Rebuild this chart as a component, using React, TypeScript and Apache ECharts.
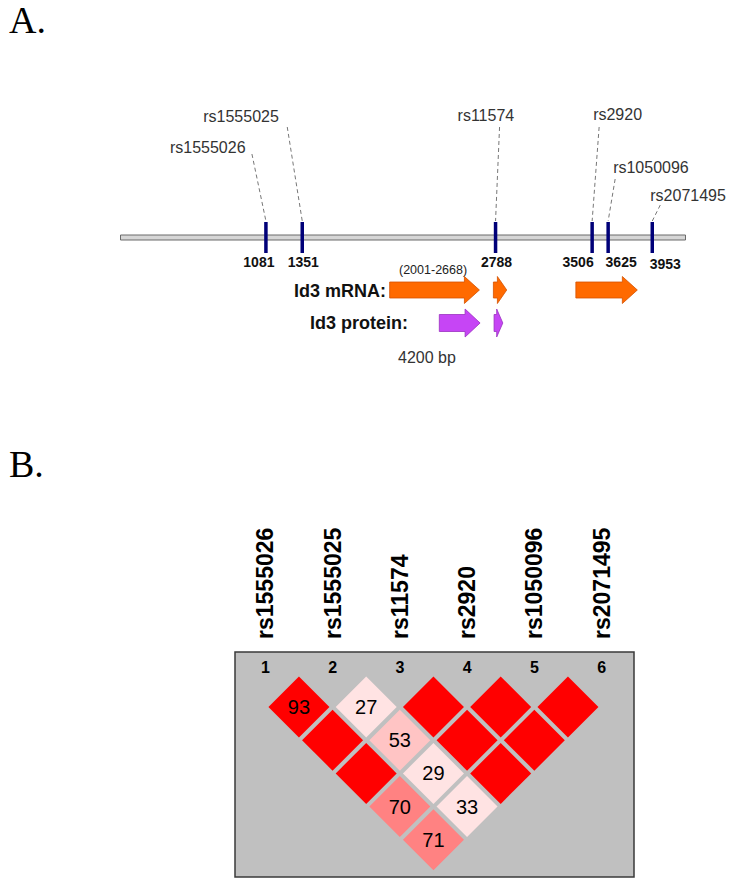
import React, { useEffect, useRef } from 'react';
import * as echarts from 'echarts';

// ---------- data ----------
const snpNames = ['rs1555026', 'rs1555025', 'rs11574', 'rs2920', 'rs1050096', 'rs2071495'];
const snpPositions = [1081, 1351, 2788, 3506, 3625, 3953];
const geneLength = 4200;
const mrnaSegments = [[2001, 2668], [2772, 2871], [3385, 3842]];
const proteinSegments = [[2370, 2673], [2777, 2842]];
const mrnaRangeLabel = '(2001-2668)';
// LD pairs: [marker i, marker j, D' x 100]
const ldPairs = [
  [1, 2, 93], [2, 3, 27], [3, 4, 100], [4, 5, 100], [5, 6, 100],
  [1, 3, 100], [2, 4, 53], [3, 5, 100], [4, 6, 100],
  [1, 4, 100], [2, 5, 29], [3, 6, 100],
  [1, 5, 70], [2, 6, 33],
  [1, 6, 71],
];
const markerNumbers = [1, 2, 3, 4, 5, 6];

// ---------- layout (pixels) ----------
// [label left dx from tick, label centre y, leader start dx, leader start y]
const snpLabelLayout = [
  [-96, 147, -14, 154],
  [-99, 116, -15, 127],
  [-38, 115, 4, 127],
  [1, 114, 7, 127],
  [5, 167, 7, 179],
  [-2, 195, 8, 205],
];
// horizontal offset of each position number from its tick
const positionLabelDx = [-7, 1, 1, -14, 13, 13];
const SANS = '"Liberation Sans", Arial, sans-serif';
const SERIF = '"Liberation Serif", "Times New Roman", serif';

function arrowPoints(x0: number, x1: number, cy: number, h: number, H: number) {
  const len = x1 - x0;
  const L = Math.min(15, len * 0.7);
  const xh = x1 - L;
  return [
    [x0, cy - h], [xh, cy - h], [xh, cy - H], [x1, cy],
    [xh, cy + H], [xh, cy + h], [x0, cy + h],
  ];
}

function arrowSeries(data: number[][], cy: number, h: number, H: number, fill: string, stroke: string) {
  return {
    type: 'custom',
    xAxisIndex: 0,
    yAxisIndex: 0,
    data,
    renderItem: (params: any, api: any) => {
      const x0 = api.coord([api.value(0), 0])[0];
      const x1 = api.coord([api.value(1), 0])[0];
      return {
        type: 'polygon',
        shape: { points: arrowPoints(x0, x1, cy, h, H) },
        style: { fill, stroke, lineWidth: 0.8 },
      };
    },
  };
}

export default function App() {
  const ref = useRef<HTMLDivElement>(null);
  useEffect(() => {
    if (!ref.current) return;
    const chart = echarts.init(ref.current, undefined, { renderer: 'svg' });
    const option: any = {
      animation: false,
      backgroundColor: '#ffffff',
      grid: [
        { left: 120.5, width: 565, top: 0, height: 886, show: false },
        {
          left: 235, top: 652, width: 399, height: 225, show: true,
          backgroundColor: '#c0c0c0', borderColor: '#3a3a3a', borderWidth: 1.5,
        },
      ],
      xAxis: [
        { gridIndex: 0, type: 'value', min: 0, max: geneLength, show: false },
        { gridIndex: 1, type: 'value', min: 0.549, max: 6.482, show: false },
      ],
      yAxis: [
        { gridIndex: 0, type: 'value', min: 0, max: 886, inverse: true, show: false },
        { gridIndex: 1, type: 'value', min: -0.657, max: 6.12, inverse: true, show: false },
      ],
      visualMap: {
        type: 'piecewise',
        show: false,
        seriesIndex: 4,
        dimension: 2,
        pieces: [
          { gte: 90, color: '#ff0000' },
          { gte: 60, lt: 90, color: '#ff8282' },
          { gte: 45, lt: 60, color: '#ffc4c4' },
          { lt: 45, color: '#ffe3e3' },
        ],
      },
      graphic: [
        { type: 'text', left: 9, top: 1, style: { text: 'A.', font: '38px ' + SERIF, fill: '#000' } },
        { type: 'text', left: 9, top: 445, style: { text: 'B.', font: '38px ' + SERIF, fill: '#000' } },
        { type: 'text', x: 386, y: 291, style: { text: 'Id3 mRNA:', font: 'bold 18px ' + SANS, fill: '#111', align: 'right', verticalAlign: 'middle' } },
        { type: 'text', x: 408, y: 323, style: { text: 'Id3 protein:', font: 'bold 18px ' + SANS, fill: '#111', align: 'right', verticalAlign: 'middle' } },
        { type: 'text', x: 399, y: 270, style: { text: mrnaRangeLabel, font: '12.5px ' + SANS, fill: '#222', align: 'left', verticalAlign: 'middle' } },
        { type: 'text', x: 398, y: 357, style: { text: geneLength + ' bp', font: '16px ' + SANS, fill: '#333', align: 'left', verticalAlign: 'middle' } },
      ],
      series: [
        // 0: backbone
        {
          type: 'custom',
          xAxisIndex: 0,
          yAxisIndex: 0,
          data: [[0, geneLength]],
          renderItem: (params: any, api: any) => {
            const x0 = api.coord([api.value(0), 0])[0];
            const x1 = api.coord([api.value(1), 0])[0];
            return {
              type: 'rect',
              shape: { x: x0, y: 235, width: x1 - x0, height: 5 },
              style: { fill: '#d6d6d6', stroke: '#6a6a6a', lineWidth: 1 },
            };
          },
        },
        // 1: SNP ticks, labels, leaders
        {
          type: 'custom',
          xAxisIndex: 0,
          yAxisIndex: 0,
          data: snpPositions.map((p, i) => [p, i]),
          renderItem: (params: any, api: any) => {
            const i = params.dataIndex;
            const x = api.coord([api.value(0), 0])[0];
            const [ldx, ly, sdx, sy] = snpLabelLayout[i];
            return {
              type: 'group',
              children: [
                { type: 'line', shape: { x1: x + sdx, y1: sy, x2: x, y2: 221 }, style: { stroke: '#777', lineDash: [4, 3], lineWidth: 1 } },
                { type: 'rect', shape: { x: x - 1.75, y: 222, width: 3.5, height: 31 }, style: { fill: '#000078' } },
                { type: 'text', style: { text: String(snpPositions[i]), x: x + positionLabelDx[i], y: i === 5 ? 264 : 262, align: 'center', verticalAlign: 'middle', font: 'bold 14px ' + SANS, fill: '#111' } },
                { type: 'text', style: { text: snpNames[i], x: x + ldx, y: ly, align: 'left', verticalAlign: 'middle', font: '16px ' + SANS, fill: '#333' } },
              ],
            };
          },
        },
        // 2: mRNA arrows
        arrowSeries(mrnaSegments, 290, 8, 13.5, '#ff6a00', '#d45200'),
        // 3: protein arrows
        arrowSeries(proteinSegments, 323, 8.5, 14, '#c645f5', '#9a30c0'),
        // 4: LD diamonds
        {
          type: 'scatter',
          xAxisIndex: 1,
          yAxisIndex: 1,
          symbol: 'diamond',
          symbolSize: 61,
          clip: false,
          itemStyle: { opacity: 1 },
          data: ldPairs.map(([i, j, d]) => [(i + j) / 2, j - i, d]),
          label: {
            show: true,
            position: 'inside',
            formatter: (p: any) => (p.value[2] < 100 ? String(p.value[2]) : ''),
            fontSize: 20,
            fontFamily: SANS,
            color: '#000',
          },
        },
        // 5: marker numbers
        {
          type: 'scatter',
          xAxisIndex: 1,
          yAxisIndex: 1,
          symbolSize: 0,
          clip: false,
          itemStyle: { opacity: 1 },
          data: markerNumbers.map((k) => [k, 0]),
          label: {
            show: true,
            position: 'inside',
            offset: [0, -6],
            formatter: (p: any) => String(p.value[0]),
            fontSize: 16,
            fontWeight: 'bold',
            fontFamily: SANS,
            color: '#000',
          },
        },
        // 6: rotated SNP names
        {
          type: 'scatter',
          xAxisIndex: 1,
          yAxisIndex: 1,
          symbolSize: 0,
          clip: false,
          itemStyle: { opacity: 1 },
          data: snpNames.map((n, k) => ({ name: n, value: [k + 1, -1.05] })),
          label: {
            show: true,
            position: 'inside',
            rotate: 90,
            align: 'left',
            verticalAlign: 'middle',
            formatter: (p: any) => p.name,
            fontSize: 23,
            fontWeight: 'bold',
            fontFamily: SANS,
            color: '#000',
          },
        },
      ],
    };
    chart.setOption(option);
    return () => chart.dispose();
  }, []);
  return <div ref={ref} style={{ position: 'absolute', left: 0, top: 0, width: 733, height: 886 }} />;
}
